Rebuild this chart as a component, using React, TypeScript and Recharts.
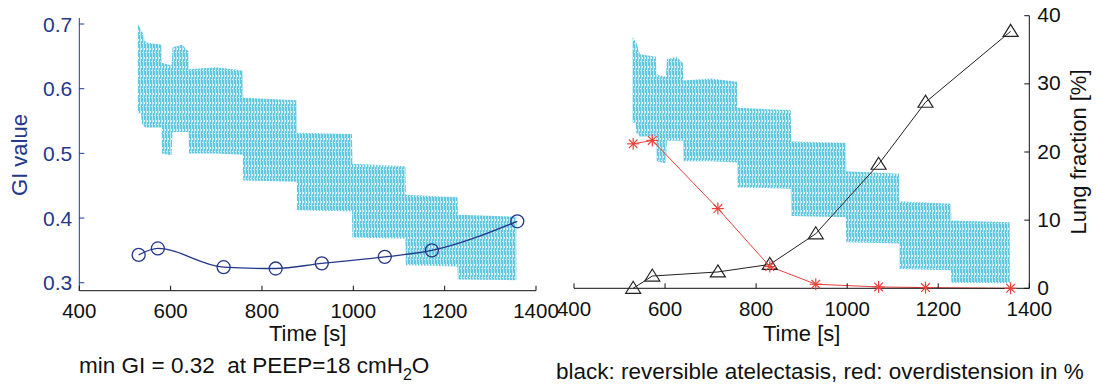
import React from "react";
import { ComposedChart, Line, Area, XAxis, YAxis } from "recharts";

// ---- data ----
// breath-by-breath GI signal envelope (upper / lower bound of the dense cyan band)
const bandTime = [528, 535, 537, 545, 580, 581, 602, 604, 625, 639, 640, 700, 758, 759, 876, 877, 997, 998, 1114, 1115, 1228, 1229, 1357];
const bandHigh = [0.700, 0.692, 0.690, 0.672, 0.668, 0.640, 0.636, 0.664, 0.668, 0.658, 0.630, 0.633, 0.628, 0.586, 0.582, 0.532, 0.530, 0.484, 0.480, 0.436, 0.432, 0.405, 0.402];
const bandLow = [0.562, 0.562, 0.545, 0.540, 0.540, 0.500, 0.497, 0.533, 0.533, 0.533, 0.500, 0.500, 0.498, 0.458, 0.456, 0.412, 0.410, 0.370, 0.368, 0.327, 0.325, 0.305, 0.304];

// PEEP step times and per-step values
const stepTime = [530, 572, 716, 830, 931, 1069, 1172, 1359];
const giValue = [0.343, 0.353, 0.324, 0.322, 0.330, 0.340, 0.350, 0.395];
const atelectasis = [0, 1.8, 2.4, 3.5, 8.0, 18.2, 27.3, 37.7];
const overdistension = [21.2, 21.7, 11.7, 3.2, 0.6, 0.2, 0.1, 0.0];

const timeTicks = [400, 600, 800, 1000, 1200, 1400];
const giTicks = [0.3, 0.4, 0.5, 0.6, 0.7];
const lungTicks = [0, 10, 20, 30, 40];

const bandData = bandTime.map((t, i) => ({ t, range: [bandLow[i], bandHigh[i]] }));
const giData = stepTime.map((t, i) => ({ t, gi: giValue[i] }));
const lungData = stepTime.map((t, i) => ({ t, atel: atelectasis[i], over: overdistension[i] }));

const FONT = "'Liberation Sans', Arial, Helvetica, sans-serif";
const NAVY = "#24388c";
const CYAN_DARK = "#62c8df";
const CYAN_LIGHT = "#b8e7f2";
const RED = "#e8403c";

const BottomTick = (props: any) => {
  const { x, y, payload } = props;
  return (
    <g>
      <line x1={x} y1={y} x2={x} y2={y - 5} stroke="#111" strokeWidth={1} />
      <text x={x} y={y + 27.5} textAnchor="middle" fontSize={20.5} fontFamily={FONT} fill="#111">
        {payload.value}
      </text>
    </g>
  );
};

const LeftTick = (props: any) => {
  const { x, y, payload } = props;
  return (
    <g>
      <line x1={x} y1={y} x2={x + 5} y2={y} stroke={NAVY} strokeWidth={1} />
      <text x={x - 7} y={y + 7.5} textAnchor="end" fontSize={21} fontFamily={FONT} fill={NAVY}>
        {Number(payload.value).toFixed(1)}
      </text>
    </g>
  );
};

const RightTick = (props: any) => {
  const { x, y, payload } = props;
  return (
    <g>
      <line x1={x} y1={y} x2={x - 5} y2={y} stroke="#111" strokeWidth={1} />
      <text x={x + 8} y={y + 6.5} textAnchor="start" fontSize={21} fontFamily={FONT} fill="#111">
        {payload.value}
      </text>
    </g>
  );
};

const CircleDot = (props: any) => {
  const { cx, cy, index } = props;
  return <circle key={`c${index}`} cx={cx} cy={cy} r={6.5} fill="none" stroke={NAVY} strokeWidth={1.3} />;
};

const TriangleDot = (props: any) => {
  const { cx, cy, index } = props;
  return (
    <polygon
      key={`t${index}`}
      points={`${cx},${cy - 7} ${cx - 7.5},${cy + 5} ${cx + 7.5},${cy + 5}`}
      fill="none"
      stroke="#222"
      strokeWidth={1.2}
    />
  );
};

const StarDot = (props: any) => {
  const { cx, cy, index } = props;
  const r = 6;
  const d = r * 0.72;
  return (
    <g key={`s${index}`} stroke={RED} strokeWidth={1.2}>
      <line x1={cx - r} y1={cy} x2={cx + r} y2={cy} />
      <line x1={cx} y1={cy - r} x2={cx} y2={cy + r} />
      <line x1={cx - d} y1={cy - d} x2={cx + d} y2={cy + d} />
      <line x1={cx - d} y1={cy + d} x2={cx + d} y2={cy - d} />
    </g>
  );
};

const Pattern = ({ id }: { id: string }) => (
  <defs>
    <pattern id={id} patternUnits="userSpaceOnUse" width={3} height={9}>
      <rect x={0} y={0} width={3} height={9} fill={CYAN_LIGHT} />
      <rect x={0} y={0} width={2} height={9} fill={CYAN_DARK} />
      <rect x={0} y={3} width={1} height={2} fill="#e6f6fa" />
      <rect x={1} y={7} width={1} height={1} fill="#d6f1f8" />
    </pattern>
  </defs>
);

export default function App() {
  return (
    <div style={{ position: "absolute", left: 0, top: 0, width: 1096, height: 387, background: "#fff", fontFamily: FONT }}>
      <div style={{ position: "absolute", left: 0, top: 0 }}>
        <ComposedChart width={560} height={387} margin={{ top: 18, right: 24, bottom: 66.3, left: 39.3 }}>
          <Pattern id="cyanL" />
          <XAxis
            dataKey="t"
            type="number"
            domain={[400, 1400]}
            ticks={timeTicks}
            height={30}
            tickSize={0}
            tickMargin={0}
            tickLine={false}
            tick={<BottomTick />}
            axisLine={{ stroke: "#111", strokeWidth: 1 }}
            allowDuplicatedCategory
          />
          <YAxis
            yAxisId="gi"
            type="number"
            domain={[0.2877, 0.7093]}
            ticks={giTicks}
            width={40}
            tickSize={0}
            tickMargin={0}
            tickLine={false}
            tick={<LeftTick />}
            axisLine={{ stroke: NAVY, strokeWidth: 1 }}
          />
          <Area
            yAxisId="gi"
            data={bandData}
            dataKey="range"
            type="linear"
            stroke="none"
            fill="url(#cyanL)"
            fillOpacity={1}
            isAnimationActive={false}
            activeDot={false}
          />
          <Line
            yAxisId="gi"
            data={giData}
            dataKey="gi"
            type="monotone"
            stroke={NAVY}
            strokeWidth={1.3}
            dot={<CircleDot />}
            activeDot={false}
            isAnimationActive={false}
          />
        </ComposedChart>
      </div>

      <div style={{ position: "absolute", left: 540, top: 0 }}>
        <ComposedChart width={556} height={387} margin={{ top: 15.7, right: 26.7, bottom: 68.7, left: 34 }}>
          <Pattern id="cyanR" />
          <XAxis
            dataKey="t"
            type="number"
            domain={[400, 1400]}
            ticks={timeTicks}
            height={30}
            tickSize={0}
            tickMargin={0}
            tickLine={false}
            tick={<BottomTick />}
            axisLine={{ stroke: "#111", strokeWidth: 1 }}
            allowDuplicatedCategory
          />
          <YAxis yAxisId="gi2" type="number" domain={[0.296, 0.734]} hide />
          <YAxis
            yAxisId="lung"
            orientation="right"
            type="number"
            domain={[0, 40]}
            ticks={lungTicks}
            width={40}
            tickSize={0}
            tickMargin={0}
            tickLine={false}
            tick={<RightTick />}
            axisLine={{ stroke: "#111", strokeWidth: 1 }}
          />
          <Area
            yAxisId="gi2"
            data={bandData}
            dataKey="range"
            type="linear"
            stroke="none"
            fill="url(#cyanR)"
            fillOpacity={1}
            isAnimationActive={false}
            activeDot={false}
          />
          <Line
            yAxisId="lung"
            data={lungData}
            dataKey="atel"
            type="linear"
            stroke="#222"
            strokeWidth={1}
            dot={<TriangleDot />}
            activeDot={false}
            isAnimationActive={false}
          />
          <Line
            yAxisId="lung"
            data={lungData}
            dataKey="over"
            type="linear"
            stroke={RED}
            strokeWidth={1}
            dot={<StarDot />}
            activeDot={false}
            isAnimationActive={false}
          />
        </ComposedChart>
      </div>

      <svg width={1096} height={387} style={{ position: "absolute", left: 0, top: 0, pointerEvents: "none" }}>
        <text x={19} y={155} transform="rotate(-90 19 155)" textAnchor="middle" dominantBaseline="central" fontSize={22} fontFamily={FONT} fill={NAVY}>
          GI value
        </text>
        <text x={1078} y={152} transform="rotate(-90 1078 152)" textAnchor="middle" dominantBaseline="central" fontSize={22} fontFamily={FONT} fill="#111">
          Lung fraction [%]
        </text>
        <text x={307.7} y={341} textAnchor="middle" fontSize={22} fontFamily={FONT} fill="#111">
          Time [s]
        </text>
        <text x={801.7} y={341} textAnchor="middle" fontSize={22} fontFamily={FONT} fill="#111">
          Time [s]
        </text>
        <text x={79} y={373} fontSize={22.5} fontFamily={FONT} fill="#111" style={{ whiteSpace: "pre" }}>
          {"min GI = 0.32  at PEEP=18 cmH"}
          <tspan fontSize={16} dy={7}>2</tspan>
          <tspan dy={-7}>O</tspan>
        </text>
        <text x={556} y={379} fontSize={22.5} fontFamily={FONT} fill="#111">
          black: reversible atelectasis, red: overdistension in %
        </text>
      </svg>
    </div>
  );
}
